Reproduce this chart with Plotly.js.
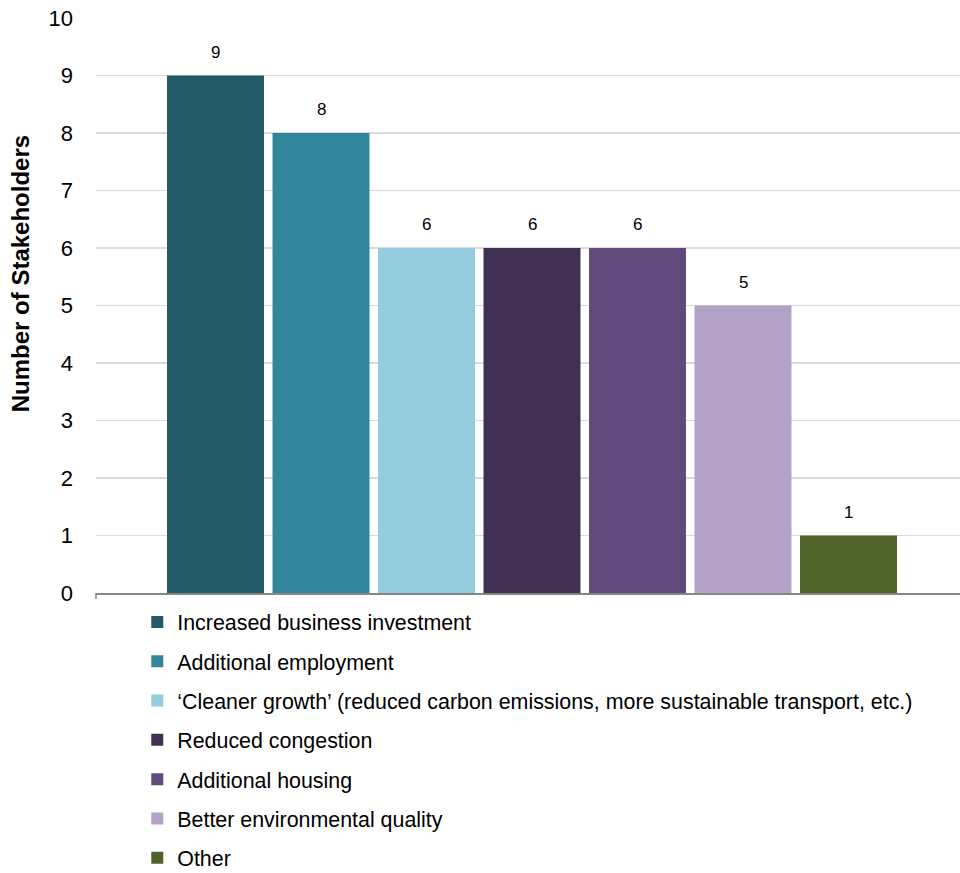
<!DOCTYPE html>
<html>
<head>
<meta charset="utf-8">
<script src="https://cdn.plot.ly/plotly-3.0.1.min.js"></script>
<style>
  html, body { margin: 0; padding: 0; background: #ffffff; }
  #chart { width: 960px; height: 873px; }
</style>
</head>
<body>
<div id="chart"></div>
<script>
// Benefits cited by stakeholders
const categories = [
  "Increased business investment",
  "Additional employment",
  "\u2018Cleaner growth\u2019 (reduced carbon emissions, more sustainable transport, etc.)",
  "Reduced congestion",
  "Additional housing",
  "Better environmental quality",
  "Other"
];
const stakeholderCounts = [9, 8, 6, 6, 6, 5, 1];
const barColors = ["#225A68", "#31869B", "#94CCDD", "#403152", "#604A7B", "#B3A2C7", "#4F6228"];
const yTickValues = [0, 1, 2, 3, 4, 5, 6, 7, 8, 9, 10];

const FONT = "Liberation Sans, Arial, Helvetica, sans-serif";

// One trace per benefit so each gets its own legend entry
const traces = categories.map((name, i) => ({
  type: "bar",
  name: name,
  x: [name],
  y: [stakeholderCounts[i]],
  width: 0.919,
  marker: { color: barColors[i], line: { width: 0 } },
  legendgroup: "g" + i,
  hoverinfo: "skip"
}));

// Value labels above each bar
const valueLabels = categories.map((name, i) => ({
  x: name,
  y: stakeholderCounts[i],
  xref: "x",
  yref: "y",
  text: String(stakeholderCounts[i]),
  showarrow: false,
  yanchor: "bottom",
  yshift: 12,
  font: { family: FONT, size: 17, color: "#000000" }
}));

const yTitle = {
  xref: "paper",
  yref: "paper",
  x: -0.088,
  y: 0.556,
  xanchor: "center",
  yanchor: "middle",
  text: "Number of Stakeholders",
  textangle: -90,
  showarrow: false,
  font: { family: FONT, size: 24, color: "#000000", weight: "bold" }
};

const layout = {
  width: 960,
  height: 873,
  margin: { l: 96, r: 0, t: 18, b: 280, autoexpand: false },
  paper_bgcolor: "#ffffff",
  plot_bgcolor: "#ffffff",
  barmode: "overlay",
  showlegend: true,
  font: { family: FONT, color: "#000000" },
  xaxis: {
    type: "category",
    categoryorder: "array",
    categoryarray: categories,
    range: [-1.1327, 7.0569],
    showticklabels: false,
    showgrid: false,
    zeroline: false,
    showline: true,
    linecolor: "#868686",
    linewidth: 1.5,
    ticks: "",
    fixedrange: true
  },
  yaxis: {
    range: [0, 10],
    tickmode: "array",
    tickvals: yTickValues,
    ticktext: yTickValues.map(String),
    showgrid: true,
    gridcolor: "#d9d9d9",
    gridwidth: 1.5,
    zeroline: false,
    showline: false,
    ticks: "",
    ticklabelstandoff: 22,
    tickfont: { family: FONT, size: 22, color: "#000000" },
    fixedrange: true
  },
  legend: {
    xref: "container",
    yref: "container",
    x: 0.143,
    y: 0.311,
    xanchor: "left",
    yanchor: "top",
    orientation: "v",
    traceorder: "grouped",
    tracegroupgap: 8.5,
    bgcolor: "rgba(0,0,0,0)",
    borderwidth: 0,
    font: { family: FONT, size: 21.4, color: "#000000" }
  },
  shapes: [
    {
      // small end tick at the left of the category axis
      type: "line",
      xref: "paper",
      yref: "paper",
      ysizemode: "pixel",
      yanchor: 0,
      x0: 0, x1: 0,
      y0: 0, y1: -6,
      line: { color: "#868686", width: 1.5 }
    }
  ],
  annotations: valueLabels.concat([yTitle])
};

Plotly.newPlot("chart", traces, layout, { displayModeBar: false, staticPlot: true });
</script>
</body>
</html>
